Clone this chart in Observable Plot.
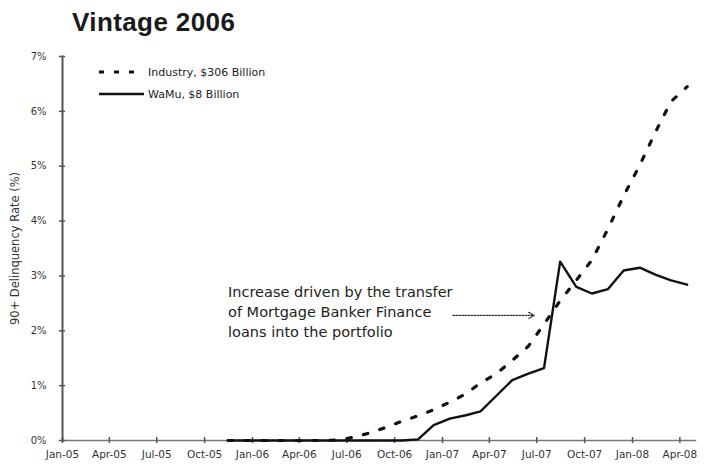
<!DOCTYPE html>
<html>
<head>
<meta charset="utf-8">
<script src="https://cdn.jsdelivr.net/npm/d3@7"></script>
<script src="https://cdn.jsdelivr.net/npm/@observablehq/plot@0.6"></script>
<style>
  html, body { margin: 0; padding: 0; background: #fff; }
  #wrap { position: relative; width: 710px; height: 469px; overflow: hidden; }
  #title { position: absolute; left: 72px; top: 7px; font: bold 26px "Liberation Sans", Arial, sans-serif; letter-spacing: 0.4px; color: #1a1a1a; }
  #legend { position: absolute; left: 98px; top: 61px; font: 11px "DejaVu Sans", sans-serif; color: #222; }
  #legend .row { display: flex; align-items: center; height: 22px; }
  #legend svg { margin-right: 4px; }
</style>
</head>
<body>
<div id="wrap">
  <div id="title">Vintage 2006</div>
  <div id="chart"></div>
  <div id="legend"></div>
</div>
<script>
// ---- data ----
const months = [
  "2005-11","2005-12","2006-01","2006-02","2006-03","2006-04","2006-05","2006-06",
  "2006-07","2006-08","2006-09","2006-10","2006-11","2006-12","2007-01","2007-02",
  "2007-03","2007-04","2007-05","2007-06","2007-07","2007-08","2007-09","2007-10",
  "2007-11","2007-12","2008-01","2008-02","2008-03","2008-04"
];
const industry = [
  0, 0, 0, 0, 0, 0, 0, 0.01,
  0.06, 0.14, 0.24, 0.35, 0.45, 0.56, 0.70, 0.85,
  1.05, 1.22, 1.46, 1.72, 2.12, 2.55, 2.92, 3.29,
  3.86, 4.46, 5.02, 5.64, 6.18, 6.45
];
const wamu = [
  0, 0, 0, 0, 0, 0, 0, 0,
  0, 0, 0, 0, 0.02, 0.28, 0.40, 0.46,
  0.53, 0.82, 1.10, 1.22, 1.32, 3.26, 2.80, 2.68,
  2.76, 3.10, 3.15, 3.02, 2.92, 2.84
];
const seriesNames = ["Industry, $306 Billion", "WaMu, $8 Billion"];
const yTicks = [0, 1, 2, 3, 4, 5, 6, 7];
const yLabel = "90+ Delinquency Rate (%)";
const xTickLabels = ["Jan-05","Apr-05","Jul-05","Oct-05","Jan-06","Apr-06","Jul-06","Oct-06",
                     "Jan-07","Apr-07","Jul-07","Oct-07","Jan-08","Apr-08"];
const annotationLines = ["Increase driven by the transfer", "of Mortgage Banker Finance", "loans into the portfolio"];
const annotationAt = {date: "2005-11-15", value: 2.37};
const arrowFrom = {date: "2007-01-21", value: 2.28};
const arrowTo = {date: "2007-06-26", value: 2.28};

// ---- build ----
const parseMonth = d3.utcParse("%Y-%m");
const midMonth = s => { const d = parseMonth(s); return new Date(Date.UTC(d.getUTCFullYear(), d.getUTCMonth(), 15)); };
const parseTick = d3.utcParse("%b-%y");
const parseDay = d3.utcParse("%Y-%m-%d");
const tickDates = xTickLabels.map(parseTick);
const ind = months.map((m, i) => ({date: midMonth(m), value: industry[i], series: seriesNames[0]}));
const wm = months.map((m, i) => ({date: midMonth(m), value: wamu[i], series: seriesNames[1]}));

const axisColor = "#555555";
const noLabel = () => "";
const chart = Plot.plot({
  width: 710,
  height: 469,
  marginTop: 56,
  marginBottom: 29,
  marginLeft: 62,
  marginRight: 15,
  style: {fontFamily: "'DejaVu Sans', sans-serif", fontSize: "10px", color: "#333", background: "#fff"},
  x: {type: "utc", domain: [parseTick("Jan-05"), parseDay("2008-05-01")]},
  y: {domain: [0, 7]},
  marks: [
    Plot.frame({anchor: "left", stroke: axisColor, strokeWidth: 2}),
    Plot.frame({anchor: "bottom", stroke: "#777", strokeWidth: 1.5}),
    Plot.axisX({ticks: tickDates, tickFormat: d3.utcFormat("%b-%y"), tickSize: 3, tickPadding: 7, fontSize: 10.5, label: null, stroke: axisColor, strokeWidth: 1.5}),
    Plot.axisX({ticks: tickDates, tickFormat: noLabel, tickSize: -3, label: null, stroke: axisColor, strokeWidth: 1.5}),
    Plot.axisY({ticks: yTicks, tickFormat: d => d + "%", tickSize: 3, tickPadding: 13, fontSize: 10, stroke: axisColor, strokeWidth: 1.5, label: null}),
    Plot.axisY({ticks: yTicks, tickFormat: noLabel, tickSize: -3, label: null, stroke: axisColor, strokeWidth: 1.5}),
    Plot.text([yLabel], {frameAnchor: "left", textAnchor: "middle", rotate: -90, dx: -47, fontSize: 11.5, fill: "#333"}),
    Plot.line(ind, {x: "date", y: "value", stroke: "#111", strokeWidth: 3.2, strokeDasharray: "4.5,12.5"}),
    Plot.line(wm, {x: "date", y: "value", stroke: "#111", strokeWidth: 2.4, strokeLinejoin: "round"}),
    Plot.text([annotationLines.join("\n")], {
      x: parseDay(annotationAt.date), y: annotationAt.value, textAnchor: "start", lineAnchor: "middle",
      lineHeight: 1.38, fontSize: 14.5, fill: "#222"
    }),
    Plot.arrow([{}], {
      x1: parseDay(arrowFrom.date), y1: arrowFrom.value, x2: parseDay(arrowTo.date), y2: arrowTo.value,
      stroke: "#333", strokeWidth: 1.3, strokeDasharray: "1.5,1.5", headLength: 7, headAngle: 60
    })
  ]
});
chart.style.display = "block";
document.getElementById("chart").appendChild(chart);

// legend
const legend = document.getElementById("legend");
const samples = [
  {name: seriesNames[0], dash: "5,10", w: 3.2},
  {name: seriesNames[1], dash: null, w: 2.4}
];
samples.forEach(s => {
  const row = document.createElement("div");
  row.className = "row";
  row.innerHTML = `<svg width="46" height="8"><line x1="1" y1="4" x2="46" y2="4" stroke="#111" stroke-width="${s.w}" ${s.dash ? `stroke-dasharray="${s.dash}"` : ""}/></svg><span>${s.name}</span>`;
  legend.appendChild(row);
});
</script>
</body>
</html>
